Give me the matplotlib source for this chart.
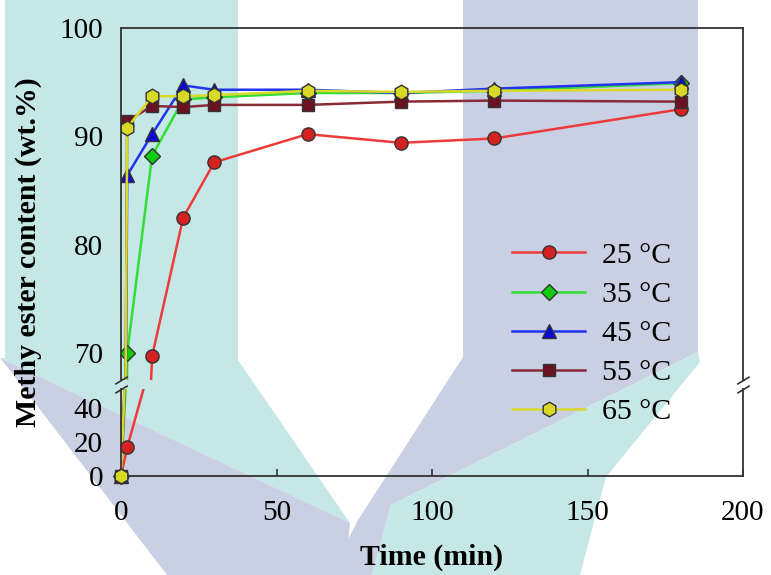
import matplotlib
matplotlib.use("Agg")
import matplotlib.pyplot as plt
from matplotlib.patches import Polygon

# time (min) and methyl ester content (wt.%) per temperature
time_min = [0, 2, 10, 20, 30, 60, 90, 120, 180]
me_25 = [0, 17.0, 69.7, 82.5, 87.6, 90.2, 89.4, 89.8, 92.5]
me_35 = [0, 70.0, 88.2, 93.4, 93.6, 94.0, 94.0, 94.2, 94.9]
me_45 = [0, 86.4, 90.2, 94.7, 94.3, 94.3, 94.0, 94.4, 95.0]
me_55 = [0, 91.4, 92.8, 92.7, 92.9, 92.9, 93.2, 93.3, 93.2]
me_65 = [0, 90.8, 93.7, 93.7, 93.8, 94.2, 94.1, 94.2, 94.3]
labels = ["25 °C", "35 °C", "45 °C", "55 °C", "65 °C"]

series = [me_25, me_35, me_45, me_55, me_65]
line_cols = ["#ee3a3a", "#33dd33", "#2233ee", "#8a2a38", "#d9d92a"]
face_cols = ["#d42222", "#11cc11", "#0a0ad8", "#6a1222", "#d8d826"]
markers = ["o", "D", "^", "s", "h"]
msizes = [9.5, 8.5, 10, 9, 10.5]

W, H = 771, 575
fig = plt.figure(figsize=(W / 100, H / 100), dpi=100)

# faint watermark shapes in the background (pixel coords)
teal = "#c5e8e6"
lav = "#cad0e4"
shapes = [
    (teal, [(5, 0), (238, 0), (238, 360), (350, 523), (0, 358), (5, 358)]),
    (lav, [(0, 358), (350, 523), (345, 575), (167, 575), (5, 364)]),
    (lav, [(463, 0), (698, 0), (698, 352), (391, 505), (372, 575), (330, 575), (358, 520), (463, 357)]),
    (teal, [(698, 352), (700, 362), (606, 477), (580, 575), (372, 575), (391, 505)]),
]
for col, pts in shapes:
    poly = Polygon([(x / W, 1 - y / H) for x, y in pts], closed=True,
                   transform=fig.transFigure, facecolor=col, edgecolor="none", zorder=-10)
    fig.add_artist(poly)

left = 121 / W
width = (743 - 121) / W
ax_top = fig.add_axes([left, 1 - 380 / H, width, (380 - 28) / H])
ax_bot = fig.add_axes([left, 1 - 476 / H, width, (476 - 389) / H])

serif = "Liberation Serif"
spine_col = "#333333"

for ax in (ax_top, ax_bot):
    ax.set_facecolor("none")
    ax.set_xlim(0, 200)
    for sp in ax.spines.values():
        sp.set_color(spine_col)
        sp.set_linewidth(1.3)
    ax.tick_params(direction="in", length=5, width=1.2, color=spine_col,
                   labelsize=21, pad=13)

handles = []
for ys, lc, fc, mk, ms, lab in zip(series, line_cols, face_cols, markers, msizes, labels):
    h, = ax_top.plot(time_min, ys, color=lc, lw=1.8, marker=mk, ms=ms,
                     mfc=fc, mec="#333333", mew=1.0, label=lab)
    handles.append(h)
    ax_bot.plot(time_min, ys, color=lc, lw=1.8)
    low = [(t, v) for t, v in zip(time_min, ys) if v <= 52]
    ax_bot.plot([p[0] for p in low], [p[1] for p in low], ls="none", marker=mk, ms=ms,
                mfc=fc, mec="#333333", mew=1.0, clip_on=False, zorder=3)

ax_top.set_ylim(67.5, 100)
ax_top.set_yticks([70, 80, 90, 100])
ax_top.spines["bottom"].set_visible(False)
ax_top.tick_params(axis="x", bottom=False, labelbottom=False)
ax_top.tick_params(axis="y", left=False)

ax_bot.set_ylim(0, 51.5)
ax_bot.set_yticks([0, 20, 40])
ax_bot.spines["top"].set_visible(False)
ax_bot.set_xticks([0, 50, 100, 150, 200])
ax_bot.tick_params(axis="x", pad=17)
ax_bot.tick_params(axis="y", left=False)

for ax in (ax_top, ax_bot):
    for lab in ax.get_xticklabels() + ax.get_yticklabels():
        lab.set_fontfamily(serif)

# break marks
kw = dict(marker=[(-1, -0.6), (1, 0.6)], markersize=9, linestyle="none",
          color=spine_col, mec=spine_col, mew=1.2, clip_on=False)
ax_top.plot([0, 1], [0, 0], transform=ax_top.transAxes, **kw)
ax_bot.plot([0, 1], [1, 1], transform=ax_bot.transAxes, **kw)

fig.legend(handles=handles, loc="upper left", bbox_to_anchor=(512 / W, 1 - 242 / H),
           frameon=False, borderpad=0, borderaxespad=0, handlelength=2.45,
           handletextpad=0.58, labelspacing=0.41, prop={"family": serif, "size": 21.5})

fig.text(28 / W, 1 - 252 / H, "Methy ester content (wt.%)", rotation=90,
         ha="center", va="center", fontfamily=serif, fontweight="bold", fontsize=21.5)
fig.text(432 / W, 1 - 557 / H, "Time (min)", ha="center", va="center",
         fontfamily=serif, fontweight="bold", fontsize=21.5)

fig.savefig("out.png", dpi=100)
